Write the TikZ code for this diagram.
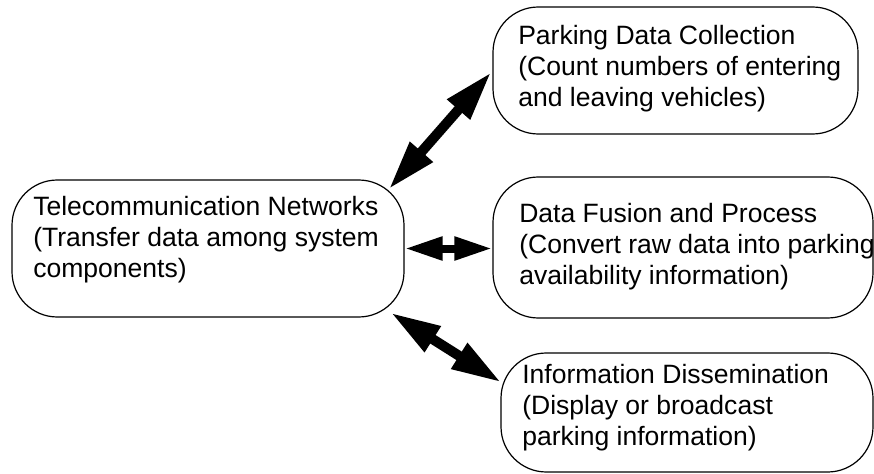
\documentclass[tikz,border=0pt]{standalone}
\usepackage{fontspec}
\setmainfont{Liberation Sans}
\usetikzlibrary{arrows.meta,calc}
\begin{document}
\begin{tikzpicture}[x=0.75pt,y=-0.75pt,
  box/.style={draw=black,line width=0.9pt,rounded corners=34pt,inner sep=0pt,fill=white},
  txt/.style={anchor=north west,align=left,inner sep=0pt,
    font=\fontsize{19.9pt}{23.25pt}\selectfont},
  bigarrow/.style={line width=7.5pt,
    {Triangle[length=37.5pt,width=21pt]}-{Triangle[length=37.5pt,width=21pt]}},
  smallarrow/.style={line width=6pt,
    {Triangle[length=28.5pt,width=16.5pt]}-{Triangle[length=28.5pt,width=16.5pt]}}]
\useasboundingbox (0,0) rectangle (874,474);
% boxes
\node[box,minimum width=294pt,minimum height=102.75pt] (tele) at (208,248.5) {};
\node[box,minimum width=273.75pt,minimum height=95.25pt] (coll) at (675.5,70.5) {};
\node[box,minimum width=285pt,minimum height=105.75pt] (fus) at (683,247.5) {};
\node[box,minimum width=279pt,minimum height=89.25pt] (dis) at (687,412.5) {};
% texts
\node[txt] (teleT) at (33,196) {Telecommunication Networks\\(Transfer data among system\\components)};
\node[txt] (collT) at (518,25) {Parking Data Collection\\(Count numbers of entering\\and leaving vehicles)};
\node[txt] (fusT) at (519,203) {Data Fusion and Process\\(Convert raw data into parking\\availability information)};
\node[txt] (disT) at (522,364) {Information Dissemination\\(Display or broadcast\\parking information)};
% connectors
\draw[bigarrow] ($(tele.north east)+(-16,10)$) -- ($(coll.west)+(-1,1.5)$);
\draw[smallarrow] (tele.east) -- (tele.east -| fus.west);
\draw[bigarrow] ($(tele.south east)+(-14,-5)$) -- ($(dis.west)+(1,-30)$);
\end{tikzpicture}
\end{document}
